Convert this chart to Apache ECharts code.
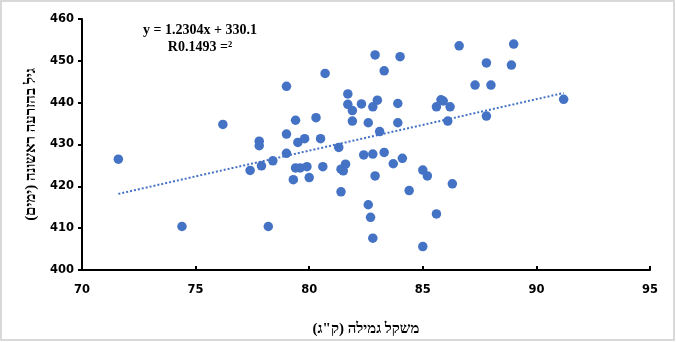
<!DOCTYPE html>
<html>
<head>
<meta charset="utf-8">
<script src="https://cdn.jsdelivr.net/npm/echarts@6/dist/echarts.min.js"></script>
<style>
  html, body { margin: 0; padding: 0; background: #fff; }
  #chart { width: 676px; height: 342px; }
</style>
</head>
<body>
<div id="chart"></div>
<script>
// Weaning weight (kg) of each animal
const weaningWeight = [
  71.6, 74.4, 76.2, 77.8, 77.8, 77.4, 77.9, 78.4, 78.2, 79.0,
  79.0, 79.0, 79.4, 79.5, 79.8, 79.4, 79.6, 79.9, 79.3, 80.0,
  80.3, 80.5, 80.6, 80.7, 81.3, 81.7, 81.7, 81.9, 81.9, 82.3,
  81.6, 81.4, 81.5, 81.4, 82.4, 82.6, 82.8, 82.9, 83.0, 83.1,
  82.8, 82.9, 82.6, 82.7, 82.8, 83.3, 83.3, 83.9, 83.9, 84.0,
  83.7, 84.1, 84.4, 85.0, 85.2, 85.0, 85.6, 85.6, 85.8, 85.9,
  86.2, 86.1, 86.3, 86.6, 87.3, 88.0, 87.8, 87.8, 88.9, 89.0,
  91.2
];
// Age at first insemination (days), same order
const ageFirstInsemination = [
  426.5, 410.4, 434.8, 430.8, 429.7, 423.8, 424.9, 426.1, 410.4, 443.9,
  432.5, 427.9, 435.8, 430.5, 431.4, 424.4, 424.4, 424.7, 421.6, 422.1,
  436.4, 431.4, 424.7, 447.0, 429.3, 442.1, 439.6, 438.1, 435.6, 439.7,
  425.3, 424.1, 423.7, 418.7, 427.5, 435.2, 439.0, 451.4, 440.6, 433.1,
  427.7, 422.5, 415.6, 412.6, 407.6, 428.1, 447.6, 439.8, 435.2, 451.0,
  425.4, 426.7, 419.0, 423.9, 422.5, 405.6, 413.4, 439.0, 440.7, 440.4,
  439.0, 435.6, 420.6, 453.6, 444.2, 444.2, 449.5, 436.8, 449.0, 454.0,
  440.8
];

// Linear trend coefficients shown in the annotation
const trendSlope = 1.2304;
const trendIntercept = 330.1;
const trendLabel = ['y = 1.2304x + 330.1', 'R0.1493 =²'];

// Axis labels
const xAxisTitle = 'משקל גמילה (ק"ג)';
const yAxisTitle = 'גיל בהזרעה ראשונה (ימים)';
const xRange = [70, 95];
const yRange = [400, 460];

const points = weaningWeight.map((w, i) => [w, ageFirstInsemination[i]]);
const xMin = Math.min(...weaningWeight);
const xMax = Math.max(...weaningWeight);
const trendLine = [xMin, xMax].map(x => [x, trendSlope * x + trendIntercept]);

const BLUE = '#4472C4';
const chart = echarts.init(document.getElementById('chart'), null, { renderer: 'canvas' });

const tickFont = { color: '#000', fontFamily: 'DejaVu Sans', fontWeight: 'bold', fontSize: 11.5 };
const titleFont = { color: '#000', fontFamily: 'Liberation Serif', fontWeight: 'bold', fontSize: 15 };

chart.setOption({
  backgroundColor: '#fff',
  animation: false,
  grid: { left: 82, right: 26, top: 19, bottom: 72, containLabel: false },
  xAxis: {
    type: 'value',
    min: xRange[0], max: xRange[1], interval: 5,
    axisLine: { show: true, onZero: false, lineStyle: { color: '#000', width: 2 } },
    axisTick: { show: true, inside: true, length: 4, lineStyle: { color: '#000', width: 2 } },
    splitLine: { show: false },
    axisLabel: Object.assign({ margin: 14 }, tickFont),
    name: xAxisTitle,
    nameLocation: 'middle',
    nameGap: 52,
    nameTextStyle: titleFont
  },
  yAxis: {
    type: 'value',
    min: yRange[0], max: yRange[1], interval: 10,
    axisLine: { show: true, onZero: false, lineStyle: { color: '#000', width: 2 } },
    axisTick: { show: true, inside: false, length: 4, lineStyle: { color: '#000', width: 2 } },
    splitLine: { show: false },
    axisLabel: Object.assign({ margin: 8 }, tickFont),
    name: yAxisTitle,
    nameLocation: 'middle',
    nameRotate: 90,
    nameGap: 43,
    nameTextStyle: titleFont
  },
  series: [
    {
      type: 'scatter',
      data: points,
      symbol: 'circle',
      symbolSize: 9.5,
      itemStyle: { color: BLUE, opacity: 1 },
      z: 3
    },
    {
      type: 'line',
      data: trendLine,
      symbol: 'none',
      lineStyle: { color: BLUE, width: 2, type: [2, 2] },
      z: 2
    }
  ],
  graphic: [
    {
      type: 'rect',
      shape: { x: 1, y: 1, width: 673, height: 339 },
      style: { fill: 'none', stroke: '#d9d9d9', lineWidth: 2 },
      silent: true,
      z: 10
    },
    {
      type: 'text',
      x: 200, y: 30,
      style: {
        text: trendLabel[0],
        fill: '#000', font: 'bold 14px "Liberation Serif"',
        align: 'center', verticalAlign: 'middle'
      }
    },
    {
      type: 'text',
      x: 200, y: 47,
      style: {
        text: trendLabel[1],
        fill: '#000', font: 'bold 14px "Liberation Serif"',
        align: 'center', verticalAlign: 'middle'
      }
    }
  ]
});
</script>
</body>
</html>
